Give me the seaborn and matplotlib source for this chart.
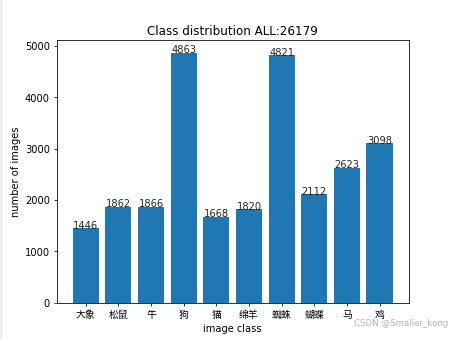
import matplotlib
matplotlib.use("Agg")
import matplotlib.pyplot as plt
import seaborn as sns
from matplotlib.lines import Line2D

categories = ["大象", "松鼠", "牛", "狗", "猫", "绵羊", "蜘蛛", "蝴蝶", "马", "鸡"]
counts = [1446, 1862, 1866, 4863, 1668, 1820, 4821, 2112, 2623, 3098]
title = "Class distribution ALL:%d" % sum(counts)

plt.rcParams['font.family'] = ['DejaVu Sans', 'Noto Sans CJK SC']

fig = plt.figure(figsize=(6.4, 4.8), dpi=454 / 6.4)
ax = fig.add_subplot(111)
sns.barplot(x=categories, y=counts, color='#1f77b4', saturation=1, width=0.8, ax=ax)
ax.set_xlim(-0.89, 9.89)
ax.set_ylim(0, max(counts) * 1.05)
for i, v in enumerate(counts):
    ax.text(i, v, str(v), ha='center', color='#222222')
ax.set_xticks(range(len(categories)))
ax.set_xticklabels(categories, family=['Noto Sans CJK SC', 'DejaVu Sans'])
ax.set_xlabel("image class")
ax.set_ylabel("number of images")
ax.set_title(title)

fig.text(0.987, 0.038, "CSDN @Smaller_kong", ha='right', va='bottom', color='#b5b5b5', fontsize=8.8)
fig.add_artist(Line2D([0.003, 0.003], [0, 1], transform=fig.transFigure, color='#e6e6e6', lw=1.5))

fig.savefig("out.png", dpi=454 / 6.4)
